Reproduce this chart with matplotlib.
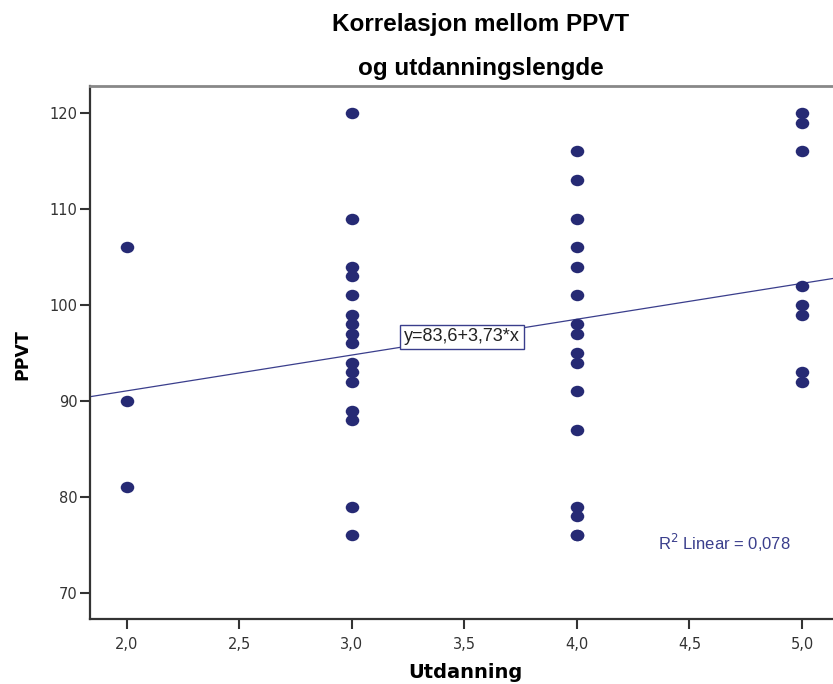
import numpy as np
import matplotlib
matplotlib.use("Agg")
import matplotlib.pyplot as plt
from matplotlib.path import Path
from matplotlib.transforms import Affine2D

# ---- data ----
x_vals = [2, 2, 2,
          3, 3, 3, 3, 3, 3, 3, 3, 3, 3, 3, 3, 3, 3, 3, 3,
          4, 4, 4, 4, 4, 4, 4, 4, 4, 4, 4, 4, 4, 4, 4, 4,
          5, 5, 5, 5, 5, 5, 5, 5]
ppvt = [106, 90, 81,
        120, 109, 104, 103, 101, 99, 98, 97, 96, 94, 93, 92, 89, 88, 79, 76,
        116, 113, 109, 106, 104, 101, 98, 97, 95, 94, 91, 87, 79, 78, 76, 76,
        120, 119, 116, 102, 100, 99, 93, 92]
intercept = 83.6
slope = 3.73
r2 = 0.078
x_ticks = [2.0, 2.5, 3.0, 3.5, 4.0, 4.5, 5.0]
x_tick_labels = ["2,0", "2,5", "3,0", "3,5", "4,0", "4,5", "5,0"]
y_ticks = [70, 80, 90, 100, 110, 120]

navy = "#262a74"
line_col = "#3a3e8c"

fig = plt.figure(figsize=(8.33, 6.84), dpi=100)
ax = fig.add_axes([90/833, 65/684, 1 - 90/833, (619-86)/684])

xmin, xmax = 2 - 37/225, 2 + (833-127)/225
ax.set_xlim(xmin, xmax)
ax.set_ylim(70 - 26/9.6, 120 + 27/9.6)

ell = Path.unit_circle().transformed(Affine2D().scale(1.18, 1.0))
ax.scatter(x_vals, ppvt, marker=ell, s=95, color=navy, linewidths=0, zorder=3)

xs = np.array([xmin, xmax])
ax.plot(xs, intercept + slope * xs, color=line_col, lw=0.9, zorder=2)

ax.text(3.489, 96.67, "y=83,6+3,73*x", ha="center", va="center",
        fontsize=13, family="Liberation Sans", color="#222222", zorder=4,
        bbox=dict(boxstyle="square,pad=0.2", fc="white", ec=line_col, lw=1.0))
ax.text(4.36, 75.2, "R$^2$ Linear = 0,078", ha="left", va="center",
        fontsize=12, family="Liberation Sans", color=line_col)

ax.set_xticks(x_ticks)
ax.set_xticklabels(x_tick_labels)
ax.set_yticks(y_ticks)
ax.tick_params(axis="both", direction="out", length=7, width=1.5,
               color="#333333", labelsize=10.5, labelcolor="#333333")
ax.tick_params(axis="x", pad=6)
ax.tick_params(axis="y", pad=2)

for s in ["left", "bottom"]:
    ax.spines[s].set_linewidth(1.6)
    ax.spines[s].set_color("#333333")
ax.spines["top"].set_color("#888888")
ax.spines["top"].set_linewidth(2.0)
ax.spines["right"].set_visible(False)

fig.text(465/833, 1 - 672/684, "Utdanning", ha="center", va="center",
         fontsize=14, fontweight="bold", family="DejaVu Sans")
fig.text(22/833, 1 - 355/684, "PPVT", ha="center", va="center", rotation=90,
         fontsize=12.5, fontweight="bold", family="DejaVu Sans")

fig.text(481/833, 1 - 25/684, "Korrelasjon mellom PPVT", ha="center", va="center",
         fontsize=17.5, fontweight="bold", family="Liberation Sans")
fig.text(481/833, 1 - 68/684, "og utdanningslengde", ha="center", va="center",
         fontsize=17.5, fontweight="bold", family="Liberation Sans")

fig.savefig("out.png", dpi=100)
